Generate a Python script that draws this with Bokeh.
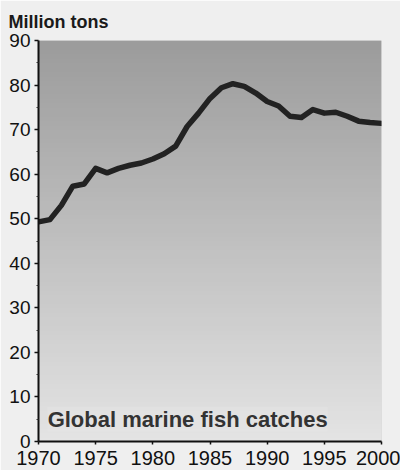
import numpy as np
from bokeh.plotting import figure
from bokeh.models import Label, FixedTicker, Range1d
from bokeh.embed import file_html
from bokeh.resources import INLINE

years = list(range(1970, 2001))
catch_mt = [49.3, 49.8, 53.0, 57.3, 57.8, 61.3, 60.3, 61.3, 62.0, 62.5,
            63.4, 64.6, 66.3, 70.7, 73.7, 77.0, 79.4, 80.3, 79.7, 78.2,
            76.3, 75.3, 73.0, 72.7, 74.5, 73.7, 73.9, 73.0, 71.9, 71.6, 71.4]
x_ticks = [1970, 1975, 1980, 1985, 1990, 1995, 2000]
y_ticks = [0, 10, 20, 30, 40, 50, 60, 70, 80, 90]

p = figure(width=400, height=470, output_backend="svg", toolbar_location=None,
           x_range=Range1d(1970, 2000), y_range=Range1d(0, 90),
           min_border_left=38, min_border_right=19, min_border_top=40, min_border_bottom=29)
p.border_fill_color = "#efefef"
p.outline_line_color = None
p.background_fill_color = "#c4c4c4"

# vertical gradient background (style only)
n = 90
grad = np.zeros((n, 1), dtype=np.uint32)
view = grad.view(dtype=np.uint8).reshape((n, 1, 4))
for i in range(n):
    t = i / (n - 1)  # 0 bottom -> 1 top
    g = int(228 - t * 72)
    view[i, 0, :] = [g, g, g, 255]
p.image_rgba(image=[grad], x=1970, y=0, dw=30, dh=90)

p.xgrid.grid_line_color = "#f4f4f4"
p.xgrid.grid_line_alpha = 0.5
p.xgrid.grid_line_width = 3
p.ygrid.grid_line_color = None

p.line(years, catch_mt, line_color="#222222", line_width=5.5, line_join="round", line_cap="round")

p.title.text = "Million tons"
p.title.text_font = "Liberation Sans"
p.title.text_font_size = "18px"
p.title.text_font_style = "bold"
p.title.text_color = "#1a1a1a"
p.title.offset = -30
p.title.standoff = 17

for ax in (p.xaxis, p.yaxis):
    ax.axis_line_color = "#111111"
    ax.axis_line_width = 2
    ax.major_tick_line_color = "#111111"
    ax.major_tick_line_width = 1.5
    ax.major_label_text_color = "#111111"

p.xaxis.ticker = FixedTicker(ticks=x_ticks)
p.xaxis.major_tick_in = 0
p.xaxis.major_tick_out = 3
p.xaxis.minor_tick_line_color = None
p.xaxis.major_label_text_font = "Liberation Sans Narrow, Liberation Sans"
p.xaxis.major_label_text_font_size = "20px"
p.xaxis.major_label_standoff = 6

p.yaxis.ticker = FixedTicker(ticks=y_ticks, minor_ticks=[5, 15, 25, 35, 45, 55, 65, 75, 85])
p.yaxis.major_tick_in = 0
p.yaxis.major_tick_out = 4
p.yaxis.minor_tick_in = 0
p.yaxis.minor_tick_out = 2
p.yaxis.minor_tick_line_color = "#333333"
p.yaxis.major_label_text_font = "Liberation Sans"
p.yaxis.major_label_text_font_size = "19px"
p.yaxis.major_label_standoff = 4

lab = Label(x=1970.8, y=5.0, text="Global marine fish catches",
            text_font="Liberation Sans", text_font_size="22px", text_font_style="bold",
            text_color="#333333", text_baseline="alphabetic",
            background_fill_color="#e8e8e8", background_fill_alpha=0.35)
p.add_layout(lab)

open("out.html", "w").write(file_html(p, INLINE))
